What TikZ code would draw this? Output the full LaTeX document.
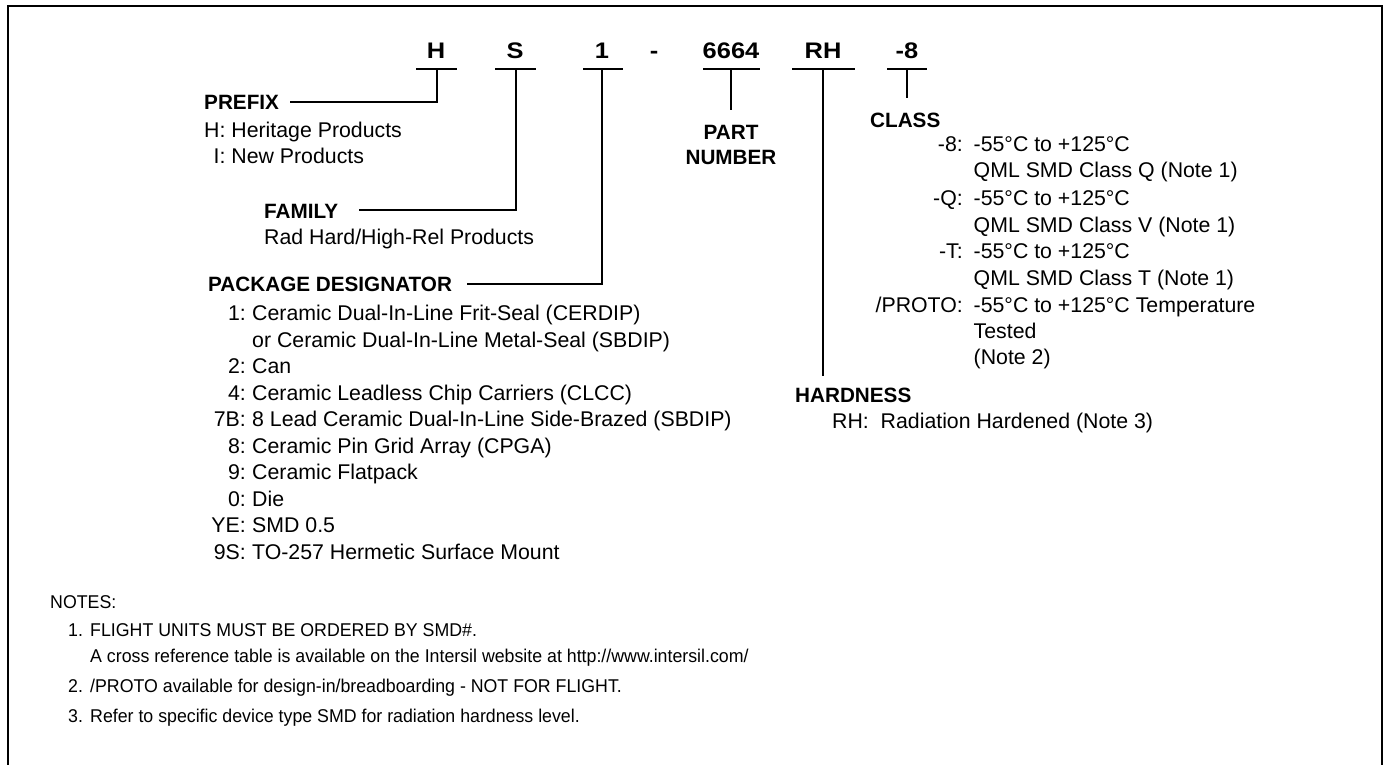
\documentclass[tikz,border=0pt]{standalone}
\usepackage{fontspec}
\usepackage{calc}
\setmainfont{Liberation Sans}
\newfontfamily\topf[FakeStretch=1.13]{Liberation Sans}
\newfontfamily\notef[FakeStretch=0.96]{Liberation Sans}
\tikzset{
  toplab/.style={font=\topf\bfseries\fontsize{22.5}{27}\selectfont, inner sep=0pt, anchor=base},
  lab/.style={font=\bfseries\fontsize{20.7}{25}\selectfont, inner sep=0pt, anchor=base west},
  labc/.style={font=\bfseries\fontsize{20.7}{25}\selectfont, inner sep=0pt, anchor=base},
  txt/.style={font=\fontsize{21.3}{25}\selectfont, inner sep=0pt, anchor=base west},
  txtr/.style={font=\fontsize{21.3}{25}\selectfont, inner sep=0pt, anchor=base east},
  note/.style={font=\notef\fontsize{18.5}{22}\selectfont, inner sep=0pt, anchor=base west},
  ln/.style={line width=2pt},
  frame/.style={line width=2pt}
}
\begin{document}
\begin{tikzpicture}[x=1pt,y=-1pt]
\useasboundingbox (0,0) rectangle (1384,765);
\clip (0,0) rectangle (1384,765);
\draw[frame] (7.5,780) -- (7.5,6) -- (1382,6) -- (1382,780);

% top code
\node[toplab] (tH) at (436,59) {H};
\node[toplab] (tS) at (515,59) {S};
\node[toplab] (t1) at (602,59) {1};
\node[toplab] (tdash) at (654,59) {-};
\node[toplab] (tPN) at (731,59) {6664};
\node[toplab] (tRH) at (823,59) {RH};
\node[toplab] (tCL) at (907,59) {-8};

% underlines
\draw[ln] (416,69) -- (457,69);
\draw[ln] (495,69) -- (536,69);
\draw[ln] (583,69) -- (623,69);
\draw[ln] (703,69) -- (760,69);
\draw[ln] (792,69) -- (855,69);
\draw[ln] (887,69) -- (927,69);
\coordinate (uH) at (437,69);
\coordinate (uS) at (516,69);
\coordinate (u1) at (602,69);
\coordinate (uPN) at (731,69);
\coordinate (uRH) at (823,69);
\coordinate (uCL) at (907,69);

% prefix
\node[lab] (prefix) at (204,109.5) {PREFIX};
\node[txt] (pH) at (204,137.5) {H:\ Heritage Products};
\node[txt] (pI) at (204,164) {\makebox[\widthof{H}][r]{I}:\ New Products};
\coordinate (prefE) at (290,102);
\draw[ln] (uH) |- (prefE);

% family
\node[lab] (family) at (264,218) {FAMILY};
\node[txt] (fam1) at (264,244.5) {Rad Hard/High-Rel Products};
\coordinate (famE) at (359,210);
\draw[ln] (uS) |- (famE);

% package designator
\node[lab] (pkg) at (208,291.5) {PACKAGE DESIGNATOR};
\coordinate (pkgE) at (467,284);
\draw[ln] (u1) |- (pkgE);
\foreach \y/\l/\t [count=\i] in {
  320.5/1:/Ceramic Dual-In-Line Frit-Seal (CERDIP),
  347//or Ceramic Dual-In-Line Metal-Seal (SBDIP),
  373.5/2:/Can,
  400/4:/Ceramic Leadless Chip Carriers (CLCC),
  426.5/7B:/8 Lead Ceramic Dual-In-Line Side-Brazed (SBDIP),
  453/8:/Ceramic Pin Grid Array (CPGA),
  479.5/9:/Ceramic Flatpack,
  506/0:/Die,
  532.5/YE:/SMD 0.5,
  559/9S:/TO-257 Hermetic Surface Mount}{
  \node[txtr] (pkl\i) at (246,\y) {\l};
  \node[txt] (pkt\i) at (252,\y) {\t};
}

% part number
\node[labc] (pn1) at (731,139.5) {PART};
\node[labc] (pn2) at (731,164.5) {NUMBER};
\draw[ln] (uPN) -- (731,110) coordinate (pnE);

% hardness
\node[lab] (hard) at (795,402) {HARDNESS};
\node[txt] (hard1) at (832,428) {RH:\ \ Radiation Hardened (Note 3)};
\draw[ln] (uRH) -- (823,376) coordinate (rhE);

% class
\node[lab] (class) at (870,127.5) {CLASS};
\draw[ln] (uCL) -- (907,98) coordinate (clE);
\foreach \y/\l/\t [count=\i] in {
  152/-8:/-55°C to +125°C,
  178//QML SMD Class Q (Note 1),
  205/-Q:/-55°C to +125°C,
  232//QML SMD Class V (Note 1),
  258/-T:/-55°C to +125°C,
  285//QML SMD Class T (Note 1),
  312/\slash PROTO:/-55°C to +125°C Temperature,
  338//Tested,
  364//(Note 2)}{
  \node[txtr] (cll\i) at (963,\y) {\l};
  \node[txt] (clt\i) at (973.5,\y) {\t};
}

% notes
\node[note] (notes) at (50,608) {NOTES:};
\node[note] (n1l) at (68,636) {1.};
\node[note] (n1) at (90,636) {FLIGHT UNITS MUST BE ORDERED BY SMD\#.};
\node[note] (n1b) at (90,662) {A cross reference table is available on the Intersil website at http://www.intersil.com/};
\node[note] (n2l) at (68,692) {2.};
\node[note] (n2) at (90,692) {/PROTO available for design-in/breadboarding - NOT FOR FLIGHT.};
\node[note] (n3l) at (68,722) {3.};
\node[note] (n3) at (90,722) {Refer to specific device type SMD for radiation hardness level.};
\end{tikzpicture}
\end{document}
